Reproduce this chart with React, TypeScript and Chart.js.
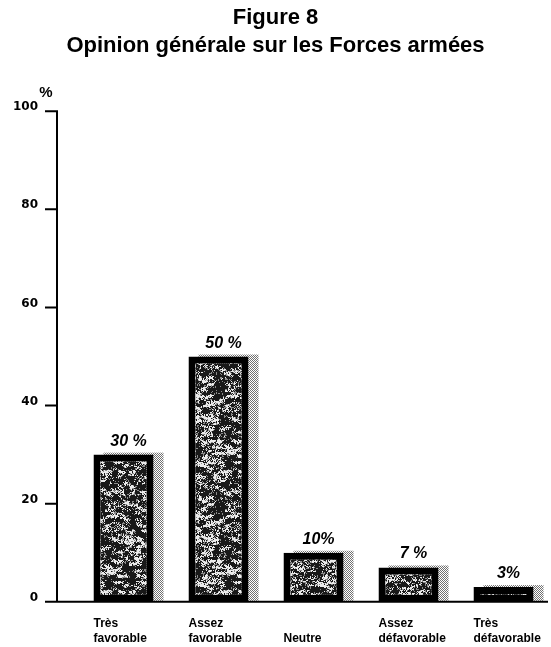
import React, { useEffect, useRef } from "react";
import { Chart, registerables } from "chart.js";

Chart.register(...registerables);

// ---- Data ----
const categories: string[][] = [
  ["Très", "favorable"],
  ["Assez", "favorable"],
  ["", "Neutre"],
  ["Assez", "défavorable"],
  ["Très", "défavorable"],
];
const values: number[] = [30, 50, 10, 7, 3];
const valueLabels: string[] = ["30 %", "50 %", "10%", "7 %", "3%"];
const yMin = 0;
const yMax = 100;
const yStep = 20;
const titleText = "Figure 8";
const subtitleText = "Opinion générale sur les Forces armées";
const unitLabel = "%";

const SANS = '"Liberation Sans", Arial, Helvetica, sans-serif';

// deterministic hash used only for the bar fill texture (styling, not data)
function hash(x: number, y: number, s: number): number {
  let h = (Math.imul(x, 374761393) + Math.imul(y, 668265263) + Math.imul(s, 982451653)) | 0;
  h = Math.imul(h ^ (h >>> 13), 1274126177);
  h ^= h >>> 16;
  return (h >>> 0) / 4294967296;
}

function smooth(x: number, y: number, px: number, py: number, s: number): number {
  const x0 = Math.floor(x);
  const y0 = Math.floor(y);
  const fx = x - x0;
  const fy = y - y0;
  const sx = fx * fx * (3 - 2 * fx);
  const sy = fy * fy * (3 - 2 * fy);
  const w = (v: number, p: number) => ((v % p) + p) % p;
  const a = hash(w(x0, px), w(y0, py), s);
  const b = hash(w(x0 + 1, px), w(y0, py), s);
  const c = hash(w(x0, px), w(y0 + 1, py), s);
  const d = hash(w(x0 + 1, px), w(y0 + 1, py), s);
  return a + (b - a) * sx + (c - a) * sy + (a - b - c + d) * sx * sy;
}

function makeTexture(): HTMLCanvasElement {
  const size = 120;
  const c = document.createElement("canvas");
  c.width = size;
  c.height = size;
  const g = c.getContext("2d")!;
  const img = g.createImageData(size, size);
  for (let y = 0; y < size; y++) {
    for (let x = 0; x < size; x++) {
      const n =
        0.45 * smooth(x / 6, y / 3, 20, 40, 7) +
        0.2 * smooth(x / 2, y / 2, 60, 60, 11) +
        0.35 * hash(x, y, 3);
      let v = 25;
      if (n > 0.6) v = 235;
      else if (n > 0.53) v = 140;
      const i = (y * size + x) * 4;
      img.data[i] = v;
      img.data[i + 1] = v;
      img.data[i + 2] = v;
      img.data[i + 3] = 255;
    }
  }
  g.putImageData(img, 0, 0);
  return c;
}

function makeChecker(): HTMLCanvasElement {
  const c = document.createElement("canvas");
  c.width = 2;
  c.height = 2;
  const g = c.getContext("2d")!;
  g.fillStyle = "#ffffff";
  g.fillRect(0, 0, 2, 2);
  g.fillStyle = "#707070";
  g.fillRect(0, 0, 1, 1);
  g.fillRect(1, 1, 1, 1);
  return c;
}

export default function App() {
  const canvasRef = useRef<HTMLCanvasElement | null>(null);

  useEffect(() => {
    const canvas = canvasRef.current;
    if (!canvas) return;
    const ctx = canvas.getContext("2d")!;
    const texture = ctx.createPattern(makeTexture(), "repeat")!;
    const checker = ctx.createPattern(makeChecker(), "repeat")!;

    const decor = {
      id: "decor",
      beforeDatasetsDraw(chart: any) {
        const c = chart.ctx;
        const ys = chart.scales.y;
        const base = ys.getPixelForValue(0);
        const meta = chart.getDatasetMeta(0);
        c.save();
        c.fillStyle = checker;
        meta.data.forEach((bar: any) => {
          const p = bar.getProps(["x", "y", "width"], true);
          const left = p.x - p.width / 2 + 10;
          c.fillRect(left, p.y - 2, p.width, base - p.y + 1);
        });
        c.restore();
      },
      afterDatasetsDraw(chart: any) {
        const c = chart.ctx;
        const ys = chart.scales.y;
        const area = chart.chartArea;
        const axisX = area.left - 19;
        const y0 = ys.getPixelForValue(0);
        const yTop = ys.getPixelForValue(yMax);
        c.save();
        c.strokeStyle = "#000";
        c.lineWidth = 2;
        c.beginPath();
        c.moveTo(axisX, yTop - 1);
        c.lineTo(axisX, y0);
        ys.ticks.forEach((t: any) => {
          const py = ys.getPixelForValue(t.value);
          c.moveTo(axisX - 12, py);
          c.lineTo(axisX + 1, py);
        });
        c.moveTo(axisX - 12, y0);
        c.lineTo(area.right - 3, y0);
        c.stroke();

        // unit label
        c.fillStyle = "#000";
        c.font = `bold 15px ${SANS}`;
        c.textAlign = "center";
        c.textBaseline = "middle";
        c.fillText(unitLabel, axisX - 11, yTop - 18);

        // value labels
        const meta = chart.getDatasetMeta(0);
        c.font = `italic bold 16px ${SANS}`;
        c.textBaseline = "alphabetic";
        meta.data.forEach((bar: any, i: number) => {
          const p = bar.getProps(["x", "y"], true);
          c.fillText(valueLabels[i], p.x + 5, p.y - 9);
        });
        c.restore();
      },
    };

    const chart = new Chart(canvas, {
      type: "bar",
      data: {
        labels: categories,
        datasets: [
          {
            data: values,
            backgroundColor: texture as any,
            borderColor: "#000",
            borderWidth: 7,
            borderSkipped: false,
            barPercentage: 0.632,
            categoryPercentage: 1,
          },
        ],
      },
      options: {
        animation: false,
        responsive: false,
        devicePixelRatio: 1,
        layout: { padding: 0 },
        plugins: {
          legend: { display: false },
          tooltip: { enabled: false },
          title: {
            display: true,
            text: titleText,
            color: "#000",
            font: { family: SANS, size: 22, weight: "bold" },
            padding: { top: 5, bottom: 0 },
          },
          subtitle: {
            display: true,
            text: subtitleText,
            color: "#000",
            font: { family: SANS, size: 22, weight: "bold" },
            padding: { top: 1, bottom: 52.4 },
          },
        },
        scales: {
          x: {
            type: "category",
            offset: true,
            grid: { display: false, drawTicks: false },
            border: { display: false },
            ticks: {
              color: "#000",
              font: { family: SANS, size: 12, weight: "bold" },
              align: "start",
              labelOffset: (ctx: any) => (ctx.index === 2 ? -21 : -30),
              padding: 15,
              maxRotation: 0,
              minRotation: 0,
              autoSkip: false,
            },
            afterFit: (s: any) => {
              s.paddingLeft = 0;
              s.paddingRight = 0;
              s.height = 44;
            },
          } as any,
          y: {
            min: yMin,
            max: yMax,
            grid: { display: false, drawTicks: false },
            border: { display: false },
            ticks: {
              stepSize: yStep,
              color: "#000",
              font: { family: '"DejaVu Sans", sans-serif', size: 12, weight: "bold" },
              padding: 38,
              labelOffset: -4,
            },
            afterFit: (s: any) => {
              s.width = 76;
            },
          } as any,
        },
      },
      plugins: [decor],
    });

    return () => chart.destroy();
  }, []);

  return (
    <div style={{ position: "fixed", left: 0, top: 0, width: 551, height: 647, background: "#fff" }}>
      <canvas ref={canvasRef} width={551} height={647} style={{ width: 551, height: 647 }} />
    </div>
  );
}
